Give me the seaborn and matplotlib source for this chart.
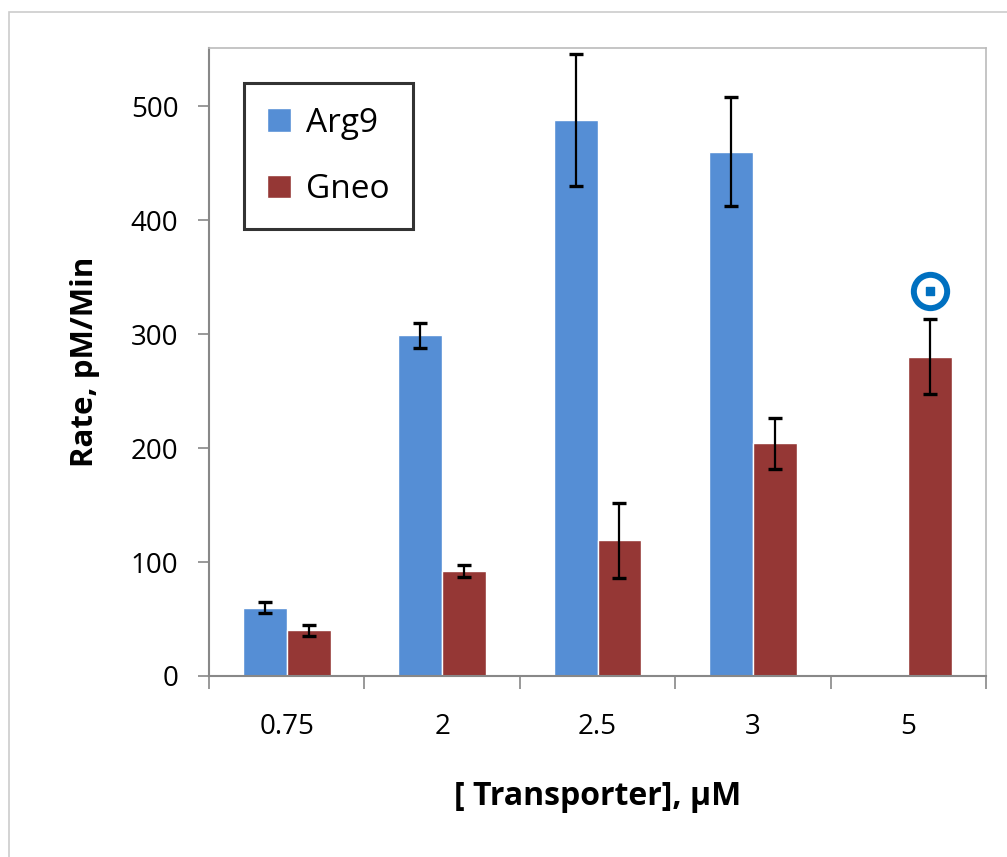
import matplotlib
matplotlib.use("Agg")
import matplotlib.pyplot as plt
from matplotlib.patches import Rectangle
import numpy as np
import pandas as pd
import seaborn as sns

# Transporter concentrations (µM) and measured rates (pM/min)
concentrations = ["0.75", "2", "2.5", "3", "5"]
arg9_rate = [60, 299, 488, 460, None]
arg9_err = [5, 11, 58, 48, None]
gneo_rate = [40, 92, 119, 204, 280]
gneo_err = [4.5, 5, 33, 22, 33]
series = ["Arg9", "Gneo"]
marker_point = ("5", "Gneo", 338)

colors = {"Arg9": "#558ED5", "Gneo": "#953735"}

rows = []
for name, vals, errs in (("Arg9", arg9_rate, arg9_err), ("Gneo", gneo_rate, gneo_err)):
    for c, v, e in zip(concentrations, vals, errs):
        if v is not None:
            rows.append({"conc": c, "series": name, "rate": v, "err": e})
df = pd.DataFrame(rows)

sns.set_theme(style="white")
plt.rcParams["font.family"] = ["Open Sans", "DejaVu Sans"]
plt.rcParams["text.color"] = "black"
plt.rcParams["axes.labelcolor"] = "black"
plt.rcParams["xtick.color"] = "black"
plt.rcParams["ytick.color"] = "black"

fig = plt.figure(figsize=(10.07, 8.57), dpi=100)
ax = fig.add_axes([209 / 1007, 1 - 676 / 857, (986 - 209) / 1007, (676 - 48) / 857])

sns.barplot(data=df, x="conc", y="rate", hue="series", order=concentrations,
            hue_order=series, palette=colors, width=0.566, gap=0,
            errorbar=None, saturation=1, ax=ax, legend=True)

# error bars on each bar centre
n = len(concentrations)
offsets = {"Arg9": -0.1415, "Gneo": 0.1415}
for _, r in df.iterrows():
    xc = concentrations.index(r["conc"]) + offsets[r["series"]]
    ax.errorbar(xc, r["rate"], yerr=r["err"], fmt="none", ecolor="black",
                elinewidth=1.6, capsize=5, capthick=2.4, zorder=5)

# highlighted point above the 5 µM bar
mx = concentrations.index(marker_point[0]) + offsets[marker_point[1]]
ax.scatter([mx], [marker_point[2]], s=576, facecolors="white", edgecolors="#0070C0",
           linewidths=4.3, zorder=6)
ax.scatter([mx], [marker_point[2]], s=34, marker="s", color="#0070C0", zorder=7)

ax.set_ylim(0, 551)
ax.set_xlim(-0.5, n - 0.5)
ax.set_yticks(range(0, 501, 100))
ax.tick_params(axis="y", left=True, length=8, width=1.2, color="#888888",
               labelcolor="black", pad=14, labelsize=20)
ax.set_xticks(range(n))
ax.set_xticklabels(concentrations)
ax.set_xticks(np.arange(-0.5, n, 1.0), minor=True)
ax.tick_params(axis="x", which="major", length=0, pad=27, labelsize=20,
               labelcolor="black")
ax.tick_params(axis="x", which="minor", bottom=True, length=9, width=1.2,
               color="#888888")

for side in ("left", "bottom"):
    ax.spines[side].set_color("#888888")
    ax.spines[side].set_linewidth(1.5)
for side in ("top", "right"):
    ax.spines[side].set_visible(True)
    ax.spines[side].set_color("#BBBBBB")
    ax.spines[side].set_linewidth(1.2)

ax.set_ylabel("Rate, pM/Min", fontsize=22.5, fontweight="bold", labelpad=22)
ax.set_xlabel("[ Transporter], µM", fontsize=23, fontweight="bold", labelpad=28)

leg = ax.legend(loc="upper left", bbox_to_anchor=(0.045, 0.944), fontsize=24,
                frameon=True, fancybox=False, handlelength=0.7, handleheight=0.7,
                labelspacing=1.0, borderpad=0.7, handletextpad=0.45,
                borderaxespad=0)
leg.get_frame().set_edgecolor("black")
leg.get_frame().set_linewidth(2.2)

# outer frame of the chart area
fig.patches.append(Rectangle((9 / 1007, -0.05), 1.2, 1 - 12 / 857 + 0.05,
                             transform=fig.transFigure, fill=False,
                             edgecolor="#CCCCCC", linewidth=1.2))

fig.savefig("out.png", dpi=100)
